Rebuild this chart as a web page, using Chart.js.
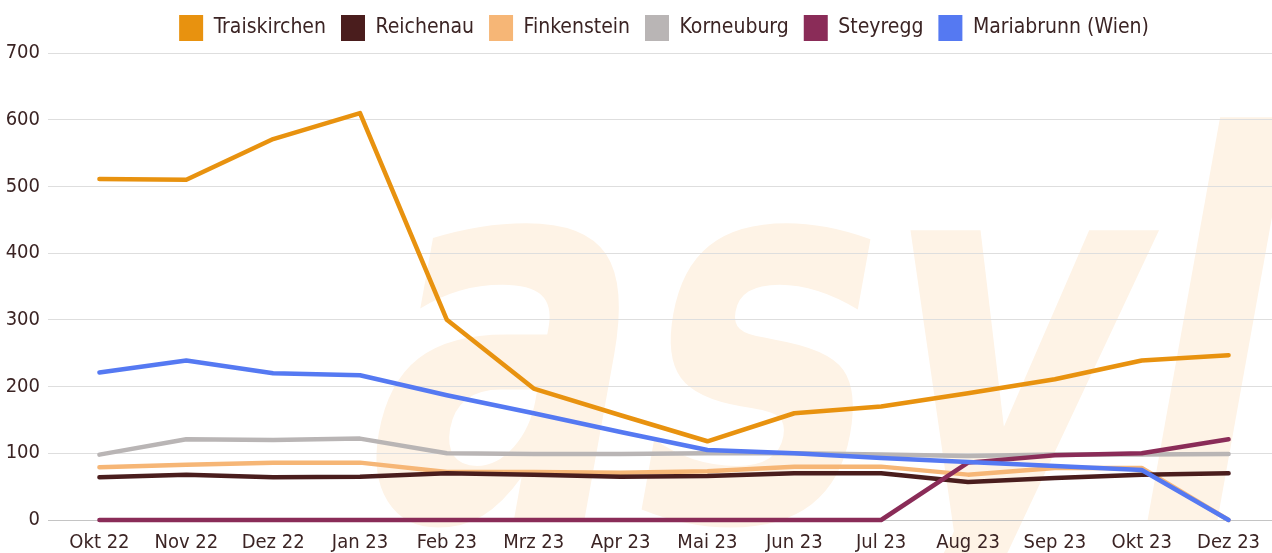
<!DOCTYPE html>
<html>
<head>
<meta charset="utf-8">
<script src="https://cdn.jsdelivr.net/npm/chart.js@4"></script>
<style>
  html, body { margin: 0; padding: 0; background: #fff; }
  #wrap { width: 1272px; height: 553px; }
</style>
</head>
<body>
<div id="wrap"><canvas id="chartAsyl"></canvas></div>
<script>
const months = ['Okt 22', 'Nov 22', 'Dez 22', 'Jan 23', 'Feb 23', 'Mrz 23', 'Apr 23',
    'Mai 23', 'Jun 23', 'Jul 23', 'Aug 23', 'Sep 23', 'Okt 23', 'Dez 23'];

const traiskirchen = [511, 510, 571, 610, 300, 197, 157, 118, 160, 170, 190, 211, 239, 247];
const reichenau    = [64, 68, 64, 65, 70, 68, 65, 66, 70, 70, 57, 63, 68, 70];
const finkenstein  = [79, 83, 86, 86, 72, 72, 71, 73, 80, 80, 68, 78, 78, 0];
const korneuburg   = [98, 121, 120, 122, 100, 99, 99, 100, 100, 98, 96, 98, 98, 99];
const steyregg     = [0, 0, 0, 0, 0, 0, 0, 0, 0, 0, 86, 97, 100, 121];
const mariabrunn   = [221, 239, 220, 217, 187, 160, 132, 105, 100, 93, 87, 81, 75, 0];

const yTicks = [0, 100, 200, 300, 400, 500, 600, 700];

const textColor = '#3b2424';
const fontFamily = "'DejaVu Sans Condensed', 'DejaVu Sans', sans-serif";

// big "asyl" watermark behind the grid
const watermark = {
    id: 'watermark',
    beforeDraw(chart) {
        const ctx = chart.ctx;
        ctx.save();
        ctx.fillStyle = '#fef3e6';
        ctx.font = "bold 530px " + fontFamily;
        const w = ctx.measureText('asy').width;
        const left = 346, lStart = 1114;
        ctx.translate(left, 520);
        ctx.transform(1, 0, -0.18, 1, 0, 0);
        ctx.scale((lStart - left) / w, 1);
        ctx.textBaseline = 'alphabetic';
        ctx.fillText('asyl', 0, 0);
        ctx.restore();
    }
};

// legend a bit taller so the plot starts lower
const legendSpace = {
    id: 'legendSpace',
    beforeInit(chart) {
        const fit = chart.legend.fit;
        chart.legend.fit = function () {
            fit.call(this);
            this.height += 2;
        };
    }
};

function line(label, data, color, order) {
    return {
        label: label,
        data: data,
        borderColor: color,
        backgroundColor: color,
        borderWidth: 4.5,
        borderCapStyle: 'round',
        borderJoinStyle: 'round',
        pointRadius: 0,
        tension: 0,
        clip: false,
        order: order
    };
}

const ctx = document.getElementById('chartAsyl').getContext('2d');
const chart = new Chart(ctx, {
    type: 'line',
    data: {
        labels: months,
        datasets: [
            line('Traiskirchen', traiskirchen, '#e8920f', 2),
            line('Reichenau', reichenau, '#4a1d1d', 4),
            line('Finkenstein', finkenstein, '#f6b676', 5),
            line('Korneuburg', korneuburg, '#b9b5b5', 6),
            line('Steyregg', steyregg, '#8a2c58', 1),
            line('Mariabrunn (Wien)', mariabrunn, '#5579f2', 0)
        ]
    },
    options: {
        responsive: true,
        maintainAspectRatio: false,
        animation: false,
        layout: { padding: 0 },
        plugins: {
            tooltip: { enabled: false },
            legend: {
                position: 'top',
                fullSize: false,
                labels: {
                    color: textColor,
                    font: { family: fontFamily, size: 21 },
                    boxWidth: 24,
                    boxHeight: 26,
                    padding: 15,
                    sort: (a, b) => a.datasetIndex - b.datasetIndex,
                    generateLabels: (chart) => {
                        const items = Chart.defaults.plugins.legend.labels.generateLabels(chart);
                        return items.map(item => ({ ...item, lineWidth: 0, lineJoin: 'miter', lineCap: 'butt' }));
                    }
                }
            }
        },
        scales: {
            x: {
                offset: true,
                grid: { display: false },
                border: { display: false },
                afterFit: (scale) => { scale.height = 33; },
                ticks: {
                    color: textColor,
                    font: { family: fontFamily, size: 20 },
                    padding: 3,
                    maxRotation: 0,
                    autoSkip: false
                }
            },
            y: {
                min: 0,
                max: 700,
                afterBuildTicks: (scale) => {
                    scale.ticks = yTicks.map(v => ({ value: v }));
                },
                afterFit: (scale) => { scale.width = 56; },
                grid: {
                    color: (c) => c.tick && c.tick.value === 0 ? '#c4c4c4' : '#dedede',
                    lineWidth: 1,
                    drawTicks: true,
                    tickLength: 8
                },
                border: { display: false },
                ticks: {
                    color: textColor,
                    font: { family: fontFamily, size: 20 },
                    padding: 8
                }
            }
        }
    },
    plugins: [watermark, legendSpace]
});
</script>
</body>
</html>
